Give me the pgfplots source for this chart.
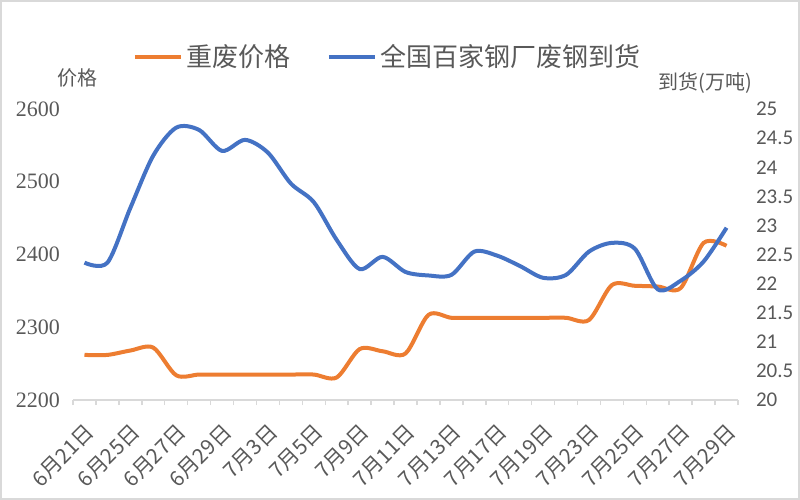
\documentclass[border=0pt]{standalone}
\usepackage{pgfplots}
\pgfplotsset{compat=1.18}
\usepackage{fontspec}
\setmainfont{Carlito}
\newfontfamily\cjk{Noto Sans CJK SC}
\newfontfamily\serifnum{Liberation Serif}
\definecolor{cOrange}{HTML}{ED7D31}
\definecolor{cBlue}{HTML}{4472C4}
\definecolor{cText}{HTML}{595959}
\definecolor{cAxis}{HTML}{D9D9D9}

\pgfplotstableread{
i price
0 2262
1 2262
2 2268
3 2272
4 2234
5 2235
6 2235
7 2235
8 2235
9 2235
10 2235
11 2231
12 2270
13 2267
14 2264
15 2317
16 2313
17 2313
18 2313
19 2313
20 2313
21 2313
22 2310
23 2358
24 2357
25 2356
26 2354
27 2416
28 2412
}\pricedata

\pgfplotstableread{
i arrival
0 22.36
1 22.36
2 23.30
3 24.20
4 24.68
5 24.64
6 24.28
7 24.47
8 24.25
9 23.72
10 23.40
11 22.75
12 22.25
13 22.46
14 22.20
15 22.14
16 22.15
17 22.55
18 22.48
19 22.30
20 22.10
21 22.15
22 22.55
23 22.70
24 22.60
25 21.90
26 22.05
27 22.38
28 22.96
}\arrivaldata

\begin{document}
\begin{tikzpicture}
\begin{axis}[
  scale only axis,
  width=332.5pt, height=145.5pt,
  clip=false,
  xmin=-0.5, xmax=28.5, ymin=2200, ymax=2600,
  ytick={2200,2300,...,2600},
  axis x line*=bottom, axis y line*=left,
  x axis line style={-, cAxis, line width=0.75pt},
  y axis line style={draw=none},
  xtick={0,2,...,28},
  xticklabels={6月21日,6月25日,6月27日,6月29日,7月3日,7月5日,7月9日,7月11日,7月13日,7月17日,7月19日,7月23日,7月25日,7月27日,7月29日},
  minor xtick={-0.5,0.5,...,28.5},
  tick align=outside,
  major tick length=0pt,
  minor tick length=2.5pt,
  minor x tick style={cAxis, line width=0.75pt},
  major x tick style={draw=none},
  ytick style={draw=none},
  xticklabel style={rotate=45, anchor=north east, font=\cjk\fontsize{10.5}{11}\selectfont, text=cText, xshift=-4.5pt, yshift=-4pt},
  yticklabel style={font=\serifnum\fontsize{11}{12}\selectfont, text=cText, xshift=-3pt, /pgf/number format/1000 sep={}},
  /pgf/number format/assume math mode=true,
  legend style={at={(0.475,1.1787)}, anchor=center, legend columns=2, draw=none, fill=none,
    font=\cjk\fontsize{13}{14}\selectfont, text=cText,
    /tikz/every even column/.append style={column sep=16pt}},
  legend image code/.code={\draw[#1, line width=2pt] (0pt,0pt) -- (23pt,0pt);},
]
\addplot[cOrange, line width=2pt, smooth, tension=0.5] table[x=i, y=price] {\pricedata};
\addlegendentry{重废价格}
\addlegendimage{cBlue, line width=2pt}
\addlegendentry{全国百家钢厂废钢到货}
\coordinate (fsw) at (rel axis cs:-0.1098,-0.3436);
\coordinate (fne) at (rel axis cs:1.0932,1.3746);
\node[font=\cjk\fontsize{10}{11}\selectfont, text=cText] at (rel axis cs:0.006,1.1065) {价格};
\node[font=\cjk\fontsize{10}{11}\selectfont, text=cText] at (rel axis cs:0.9504,1.0893) {到货(万吨)};
\end{axis}

\begin{axis}[
  scale only axis,
  width=332.5pt, height=145.5pt,
  xmin=-0.5, xmax=28.5, ymin=20, ymax=25,
  ytick={20,20.5,...,25},
  hide x axis,
  axis y line*=right,
  y axis line style={draw=none},
  ytick style={draw=none},
  major tick length=0pt,
  yticklabel style={font=\fontsize{10.5}{11}\selectfont, text=cText, xshift=5.5pt},
  /pgf/number format/assume math mode=true,
]
\addplot[cBlue, line width=2pt, smooth, tension=0.5] table[x=i, y=arrival] {\arrivaldata};
\end{axis}

\pgfresetboundingbox
\path[use as bounding box] (fsw) rectangle (fne);
\draw[cAxis, line width=1pt] ([shift={(0.5pt,0.5pt)}]fsw) rectangle ([shift={(-0.5pt,-0.5pt)}]fne);
\end{tikzpicture}
\end{document}
